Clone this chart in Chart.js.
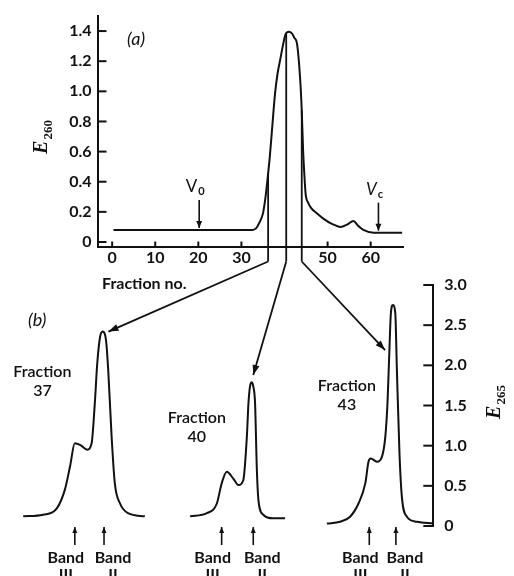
<!DOCTYPE html>
<html>
<head>
<meta charset="utf-8">
<script src="https://cdn.jsdelivr.net/npm/chart.js@4.4.1/dist/chart.umd.min.js"></script>
<style>
  body { margin: 0; background: #fff; }
  #wrap { position: relative; width: 514px; height: 576px; overflow: hidden; }
  canvas { position: absolute; left: 0; top: 0; }
</style>
</head>
<body>
<div id="wrap">
  <canvas id="elution" width="514" height="576"></canvas>
  <canvas id="scans" width="514" height="576"></canvas>
</div>
<script>
// (a) elution profile, E260 per fraction
const fractionNo = [0.3, 10, 20, 30, 32.5, 33.4, 34.2, 35.0, 35.6, 36.0, 36.6, 37.2, 37.8, 38.4, 39.0, 39.6, 40.2, 41.0, 41.7, 42.3, 42.9, 43.6, 44.0, 44.3, 44.6, 44.9, 45.5, 46.2, 47.5, 49.0, 51.0, 53.0, 54.5, 56.0, 57.0, 58.3, 60.7, 67.3];
const e260 = [0.08, 0.08, 0.08, 0.08, 0.08, 0.09, 0.13, 0.19, 0.30, 0.40, 0.57, 0.78, 0.985, 1.12, 1.21, 1.30, 1.375, 1.395, 1.385, 1.355, 1.317, 1.095, 0.875, 0.62, 0.45, 0.32, 0.26, 0.225, 0.19, 0.155, 0.12, 0.10, 0.115, 0.14, 0.11, 0.08, 0.062, 0.062];
const xTicksA = [0, 10, 20, 30, 50, 60];
const yTicksA = [0, 0.2, 0.4, 0.6, 0.8, 1.0, 1.2, 1.4];
const v0Fraction = 20.2;
const vcFraction = 61.8;

// (b) gel scans of fractions 37, 40, 43 (distance in mm, E265)
const sampleNames = ['37', '40', '43'];
const cutAt = [36.2, 40.4, 44.0];
const scanDist37 = [0, 5.0, 8.4, 10.4, 11.7, 12.9, 14.2, 16.0, 17.1, 17.9, 18.5, 19.2, 19.85, 20.7, 21.25, 22.1, 22.9, 24.2, 26.2, 30.4];
const scanE37 = [0.12, 0.14, 0.22, 0.45, 0.74, 1.03, 1.01, 0.95, 1.03, 1.53, 2.02, 2.35, 2.42, 2.31, 1.94, 1.11, 0.53, 0.28, 0.16, 0.12];
const scanDist40 = [0, 4.2, 6.7, 7.9, 9.2, 10.8, 12.1, 13.3, 14.2, 14.6, 15.0, 15.4, 15.8, 16.25, 16.7, 17.1, 18.3, 20.8, 23.75];
const scanE40 = [0.12, 0.16, 0.28, 0.53, 0.675, 0.59, 0.51, 0.57, 1.11, 1.53, 1.74, 1.79, 1.74, 1.53, 0.70, 0.32, 0.14, 0.095, 0.095];
const scanDist43 = [0, 3.3, 5.8, 7.9, 9.6, 10.4, 11.0, 12.5, 13.75, 14.6, 15.15, 15.6, 16.0, 16.5, 17.1, 17.5, 18.15, 18.75, 20.0, 22.5, 26.6];
const scanE43 = [0.03, 0.053, 0.116, 0.28, 0.53, 0.80, 0.84, 0.80, 0.86, 1.11, 1.53, 2.15, 2.65, 2.75, 2.65, 1.94, 0.90, 0.36, 0.116, 0.053, 0.033];
const bandIII = [12.9, 7.9, 10.6];
const bandII = [20.2, 15.8, 17.25];
const arrowAtDist = [21.3, 15.8, 14.55];
const arrowAtE = [2.42, 1.88, 2.19];
const yTicksB = [0, 0.5, 1.0, 1.5, 2.0, 2.5, 3.0];

// layout of the scans along the lower strip
const traceStart = [5.8, 47.5, 81.7];
const labelAt = [[10.6, 1.853], [49.2, 1.281], [86.7, 1.679]];

const INK = '#111';
const SANS = 'Lato, "Open Sans", sans-serif';
const tickFont = { family: SANS, size: 16, weight: 'bold' };

function arrowHead(ctx, x, y, angle, len, w) {
  ctx.save();
  ctx.translate(x, y);
  ctx.rotate(angle);
  ctx.beginPath();
  ctx.moveTo(0, 0);
  ctx.lineTo(-len, -w / 2);
  ctx.lineTo(-len, w / 2);
  ctx.closePath();
  ctx.fill();
  ctx.restore();
}

function arrow(ctx, x1, y1, x2, y2, len, w) {
  ctx.beginPath();
  ctx.moveTo(x1, y1);
  ctx.lineTo(x2, y2);
  ctx.stroke();
  arrowHead(ctx, x2, y2, Math.atan2(y2 - y1, x2 - x1), len, w);
}

// draws main text plus a subscript, left aligned at x, baseline y
function subText(ctx, main, sub, x, y, mainFont, subFont, drop) {
  ctx.font = mainFont;
  const w1 = ctx.measureText(main).width;
  ctx.fillText(main, x, y);
  ctx.font = subFont;
  ctx.fillText(sub, x + w1 + 1, y + drop);
  return w1 + 1 + ctx.measureText(sub).width;
}

function measureSub(ctx, main, sub, mainFont, subFont) {
  ctx.font = mainFont;
  const w1 = ctx.measureText(main).width;
  ctx.font = subFont;
  return w1 + 1 + ctx.measureText(sub).width;
}

function e260At(f) {
  for (let i = 1; i < fractionNo.length; i++) {
    if (f <= fractionNo[i]) {
      const t = (f - fractionNo[i - 1]) / (fractionNo[i] - fractionNo[i - 1]);
      return e260[i - 1] + t * (e260[i] - e260[i - 1]);
    }
  }
  return e260[e260.length - 1];
}

const panelA = {
  id: 'panelA',
  afterDraw(chart) {
    const ctx = chart.ctx;
    const xs = chart.scales.x, ys = chart.scales.y;
    const area = chart.chartArea;
    ctx.save();
    ctx.strokeStyle = INK;
    ctx.fillStyle = INK;
    ctx.lineWidth = 2;
    // inward tick marks
    yTicksA.forEach(v => {
      const y = ys.getPixelForValue(v);
      ctx.beginPath(); ctx.moveTo(area.left, y); ctx.lineTo(area.left + 9, y); ctx.stroke();
    });
    xTicksA.forEach(v => {
      const x = xs.getPixelForValue(v);
      ctx.beginPath(); ctx.moveTo(x, area.bottom); ctx.lineTo(x, area.bottom - 5); ctx.stroke();
    });

    ctx.textAlign = 'left';
    ctx.textBaseline = 'alphabetic';
    ctx.font = 'italic 18px ' + SANS;
    ctx.fillText('(a)', 127, 45);

    ctx.font = 'bold 16px ' + SANS;
    ctx.fillText('Fraction no.', 102, 289);

    // E260 axis title
    ctx.save();
    ctx.translate(47, 137);
    ctx.rotate(-Math.PI / 2);
    const mf = 'bold italic 20px "Liberation Serif", serif';
    const sf = 'bold 13px "Liberation Serif", serif';
    const tw = measureSub(ctx, 'E', '260', mf, sf);
    subText(ctx, 'E', '260', -tw / 2, 0, mf, sf, 5);
    ctx.restore();

    // void and total volume markers
    ctx.lineWidth = 1.6;
    [[v0Fraction, 'V', '0', 'normal'], [vcFraction, 'V', 'c', 'italic']].forEach(m => {
      const x = xs.getPixelForValue(m[0]);
      const base = ys.getPixelForValue(e260At(m[0]));
      arrow(ctx, x, base - 30, x, base - 2, 7, 6);
      const mfont = m[3] + ' 17px ' + SANS;
      const sfont = 'bold 11px ' + SANS;
      const w = measureSub(ctx, m[1], m[2], mfont, sfont);
      subText(ctx, m[1], m[2], x - 4 - w / 2, base - 38, mfont, sfont, 3);
    });
    ctx.restore();
  }
};

const chartA = new Chart(document.getElementById('elution'), {
  type: 'line',
  data: {
    datasets: [{
      data: fractionNo.map((f, i) => ({ x: f, y: e260[i] })),
      borderColor: INK,
      borderWidth: 2,
      pointRadius: 0,
      cubicInterpolationMode: 'monotone',
      fill: false
    }]
  },
  options: {
    responsive: false,
    animation: false,
    events: [],
    layout: { padding: { left: 0, top: 16, right: 111, bottom: 299.5 } },
    plugins: { legend: { display: false }, tooltip: { enabled: false } },
    scales: {
      x: {
        type: 'linear',
        min: -3.4,
        max: 67.5,
        grid: { drawOnChartArea: false, drawTicks: false },
        border: { color: INK, width: 2 },
        afterBuildTicks: s => { s.ticks = xTicksA.map(v => ({ value: v })); },
        afterFit: s => { s.height = 30; },
        ticks: { padding: 2, font: tickFont, color: INK, maxRotation: 0, autoSkip: false }
      },
      y: {
        min: -0.03,
        max: 1.5,
        grid: { drawOnChartArea: false, drawTicks: false },
        border: { color: INK, width: 2 },
        afterBuildTicks: s => { s.ticks = yTicksA.map(v => ({ value: v })); },
        afterFit: s => { s.width = 97.5; },
        ticks: {
          padding: 6, font: tickFont, color: INK, autoSkip: false,
          callback: v => v === 0 ? '0' : v.toFixed(1)
        }
      }
    }
  },
  plugins: [panelA]
});

const panelB = {
  id: 'panelB',
  afterDraw(chart) {
    const ctx = chart.ctx;
    const xs = chart.scales.x, ys = chart.scales.y;
    const area = chart.chartArea;
    ctx.save();
    ctx.strokeStyle = INK;
    ctx.fillStyle = INK;
    ctx.lineWidth = 2;
    yTicksB.forEach(v => {
      const y = ys.getPixelForValue(v);
      ctx.beginPath(); ctx.moveTo(area.right - 10, y); ctx.lineTo(area.right, y); ctx.stroke();
    });

    ctx.textBaseline = 'alphabetic';
    ctx.textAlign = 'left';
    ctx.font = 'italic 18px ' + SANS;
    ctx.fillText('(b)', 28, 326);

    // E265 axis title
    ctx.save();
    ctx.translate(500, 402);
    ctx.rotate(-Math.PI / 2);
    const mf = 'bold italic 20px "Liberation Serif", serif';
    const sf = 'bold 13px "Liberation Serif", serif';
    const tw = measureSub(ctx, 'E', '265', mf, sf);
    subText(ctx, 'E', '265', -tw / 2, 0, mf, sf, 5);
    ctx.restore();

    ctx.textAlign = 'center';
    sampleNames.forEach((name, i) => {
      // fraction label
      const lx = xs.getPixelForValue(labelAt[i][0]);
      const ly = ys.getPixelForValue(labelAt[i][1]);
      ctx.font = '600 16px ' + SANS;
      ctx.fillText('Fraction', lx, ly);
      ctx.fillText(name, lx, ly + 19);

      // band markers
      ctx.lineWidth = 1.6;
      [[bandIII[i], 'III', -9], [bandII[i], 'II', 9]].forEach(b => {
        const bx = xs.getPixelForValue(traceStart[i] + b[0]);
        arrow(ctx, bx, area.bottom + 19, bx, area.bottom + 1, 6, 5);
        ctx.font = 'bold 16px ' + SANS;
        ctx.fillText('Band', bx + b[2], area.bottom + 37);
        ctx.fillText(b[1], bx + b[2], area.bottom + 54);
      });

      // link from the elution profile to the scan
      const ax = chartA.scales.x, ay = chartA.scales.y;
      const cx = ax.getPixelForValue(cutAt[i]);
      const top = ay.getPixelForValue(e260At(cutAt[i]));
      const bend = chartA.chartArea.bottom + 15;
      const tx = xs.getPixelForValue(traceStart[i] + arrowAtDist[i]);
      const ty = ys.getPixelForValue(arrowAtE[i]);
      ctx.lineWidth = 1.8;
      ctx.beginPath();
      ctx.moveTo(cx, top);
      ctx.lineTo(cx, bend);
      ctx.stroke();
      arrow(ctx, cx, bend, tx, ty, 10, 7);
    });
    ctx.restore();
  }
};

const scanSets = [[scanDist37, scanE37], [scanDist40, scanE40], [scanDist43, scanE43]];

new Chart(document.getElementById('scans'), {
  type: 'line',
  data: {
    datasets: scanSets.map((s, i) => ({
      data: s[0].map((d, j) => ({ x: traceStart[i] + d, y: s[1][j] })),
      borderColor: INK,
      borderWidth: 2,
      pointRadius: 0,
      cubicInterpolationMode: 'monotone',
      fill: false,
      clip: false
    }))
  },
  options: {
    responsive: false,
    animation: false,
    events: [],
    layout: { padding: { left: 0, top: 285, right: 0, bottom: 50 } },
    plugins: { legend: { display: false }, tooltip: { enabled: false } },
    scales: {
      x: { type: 'linear', min: 0, max: 108.3, display: false },
      y: {
        position: 'right',
        min: 0,
        max: 3,
        grid: { drawOnChartArea: false, drawTicks: false },
        border: { color: INK, width: 2 },
        afterBuildTicks: s => { s.ticks = yTicksB.map(v => ({ value: v })); },
        afterFit: s => { s.width = 80.7; },
        ticks: {
          padding: 11, font: tickFont, color: INK, autoSkip: false,
          callback: v => v === 0 ? '0' : v.toFixed(1)
        }
      }
    }
  },
  plugins: [panelB]
});
</script>
</body>
</html>
